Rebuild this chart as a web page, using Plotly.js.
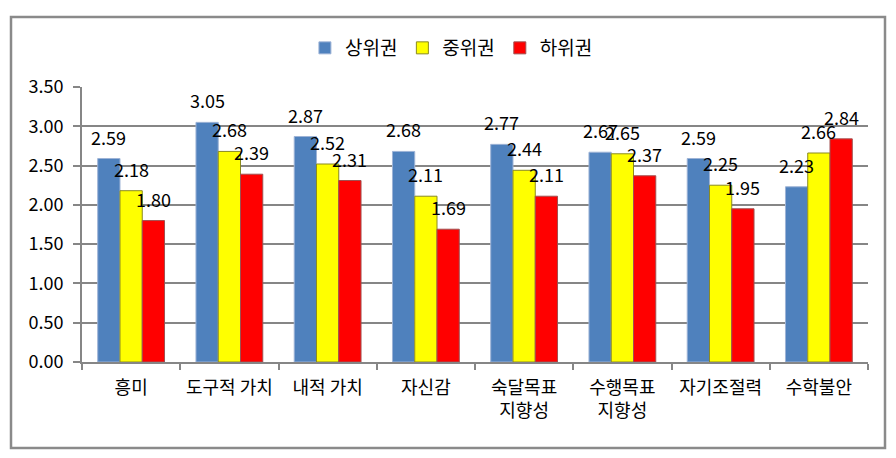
<!DOCTYPE html>
<html>
<head>
<meta charset="utf-8">
<script src="https://cdn.plot.ly/plotly-3.0.1.min.js"></script>
<style>
  html, body { margin: 0; padding: 0; background: #ffffff; }
  #chart { width: 896px; height: 458px; }
</style>
</head>
<body>
<div id="chart"></div>
<script>
// ---- data ----
const categories = ['흥미', '도구적 가치', '내적 가치', '자신감', '숙달목표<br>지향성', '수행목표<br>지향성', '자기조절력', '수학불안'];
const seriesNames = ['상위권', '중위권', '하위권'];
const upper  = [2.59, 3.05, 2.87, 2.68, 2.77, 2.67, 2.59, 2.23];
const middle = [2.18, 2.68, 2.52, 2.11, 2.44, 2.65, 2.25, 2.66];
const lower  = [1.80, 2.39, 2.31, 1.69, 2.11, 2.37, 1.95, 2.84];
const yTicks = [0, 0.5, 1.0, 1.5, 2.0, 2.5, 3.0, 3.5];

// ---- styles ----
const FONT = '"Noto Sans CJK KR", "Noto Sans", sans-serif';
const fillColors = ['#4F81BD', '#FFFF00', '#FF0000'];
const lineColors = ['#9db3d6', '#8a8a20', '#a05050'];
const values = [upper, middle, lower];

const traces = values.map((v, i) => ({
  type: 'bar',
  name: seriesNames[i],
  x: categories,
  y: v,
  marker: { color: fillColors[i], line: { color: lineColors[i], width: 1 } },
  hoverinfo: 'none'
}));

const barPx = 22.3;
const annotations = [];
values.forEach((v, i) => {
  v.forEach((val, j) => {
    annotations.push({
      x: categories[j], y: val, xref: 'x', yref: 'y',
      text: val.toFixed(2), showarrow: false,
      xanchor: 'center', yanchor: 'bottom',
      xshift: (i - 1) * barPx, yshift: 7,
      font: { family: FONT, size: 18, color: '#000000' }
    });
  });
});

// frame around the whole chart (paper coords relative to plot area)
const L = 82, R = 28, T = 87, B = 96, W = 896, H = 458;
const pw = W - L - R, ph = H - T - B;
const fx0 = (11 - L) / pw, fx1 = (885 - L) / pw;
const fy1 = (H - B - 17) / ph, fy0 = (H - B - 448) / ph;

const layout = {
  width: W, height: H,
  margin: { l: L, r: R, t: T, b: B },
  paper_bgcolor: '#ffffff', plot_bgcolor: '#ffffff',
  font: { family: FONT, size: 18, color: '#000000' },
  barmode: 'group', bargap: 0.32, bargroupgap: 0,
  showlegend: true,
  legend: {
    orientation: 'h', x: 0.47, xanchor: 'center', y: (H - B - 48) / ph, yanchor: 'middle',
    font: { family: FONT, size: 19, color: '#000000' },
    itemwidth: 30, traceorder: 'normal'
  },
  xaxis: {
    type: 'category', range: [-0.5, 7.5],
    showgrid: false, zeroline: false,
    showline: true, linecolor: '#868686', linewidth: 2,
    ticks: 'outside', tickson: 'boundaries', ticklen: 6, tickcolor: '#868686', tickwidth: 2,
    ticklabelstandoff: 8,
    tickfont: { family: FONT, size: 18, color: '#000000' }
  },
  yaxis: {
    range: [0, 3.5], tickvals: yTicks, tickformat: '.2f',
    showgrid: true, gridcolor: '#868686', gridwidth: 2,
    zeroline: false,
    showline: true, linecolor: '#868686', linewidth: 2,
    ticks: 'outside', ticklen: 7, tickcolor: '#868686', tickwidth: 2,
    ticklabelstandoff: 6,
    tickfont: { family: FONT, size: 18, color: '#000000' }
  },
  annotations: annotations,
  shapes: [{
    type: 'rect', xref: 'paper', yref: 'paper',
    x0: fx0, x1: fx1, y0: fy0, y1: fy1,
    line: { color: '#8a8a8a', width: 2.5 }, fillcolor: 'rgba(0,0,0,0)', layer: 'above'
  }]
};

Plotly.newPlot('chart', traces, layout, { displayModeBar: false, staticPlot: true });
</script>
</body>
</html>
